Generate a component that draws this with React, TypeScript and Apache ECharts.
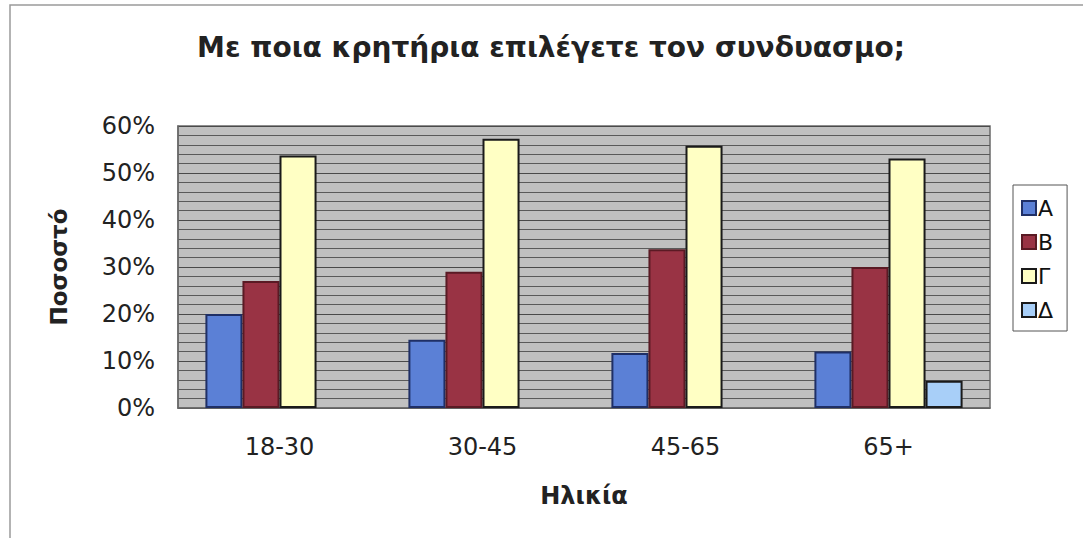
import React, { useEffect, useRef } from "react";
import * as echarts from "echarts";

const categories = ["18-30", "30-45", "45-65", "65+"];
const seriesNames = ["A", "B", "Γ", "Δ"];
const valuesA = [0.2, 0.145, 0.117, 0.12];
const valuesB = [0.27, 0.29, 0.338, 0.3];
const valuesG = [0.537, 0.573, 0.558, 0.531];
const valuesD = [null, null, null, 0.058];
const yTicks = [0, 0.1, 0.2, 0.3, 0.4, 0.5, 0.6];

const fillColors = ["#5b80d6", "#993344", "#ffffc4", "#a8cff8"];
const borderColors = ["#1f2f66", "#5a1a24", "#1a1a1a", "#1a1a1a"];
const FONT = "DejaVu Sans, Verdana, sans-serif";

export default function App() {
  const ref = useRef<HTMLDivElement>(null);
  useEffect(() => {
    if (!ref.current) return;
    const chart = echarts.init(ref.current, null, { renderer: "svg" });
    const data = [valuesA, valuesB, valuesG, valuesD];
    chart.setOption({
      animation: false,
      backgroundColor: "#ffffff",
      textStyle: { fontFamily: FONT, color: "#111" },
      title: {
        text: "Με ποια κρητήρια επιλέγετε τον συνδυασμο;",
        left: 546,
        textAlign: "center",
        top: 28,
        textStyle: { fontSize: 28, fontWeight: "bold", color: "#222", fontFamily: FONT },
      },
      graphic: [
        {
          type: "rect",
          shape: { x: 10, y: 5, width: 1100, height: 600 },
          style: { fill: "none", stroke: "#9a9a9a", lineWidth: 1.5 },
          silent: true,
        },
      ],
      legend: {
        orient: "vertical",
        left: 1013,
        top: 185,
        width: 66,
        padding: [12, 14, 10, 8],
        borderColor: "#555",
        borderWidth: 1,
        itemWidth: 14,
        itemHeight: 14,
        itemGap: 12,
        icon: "rect",
        data: seriesNames,
        textStyle: { fontSize: 22, color: "#111", fontFamily: FONT, padding: [0, 0, 0, -3] },
      },
      grid: {
        left: 178,
        right: 93,
        top: 126,
        bottom: 130,
        show: true,
        backgroundColor: "#c0c0c0",
        borderColor: "#6a6a6a",
        borderWidth: 1.5,
      },
      xAxis: {
        type: "category",
        data: categories,
        name: "Ηλικία",
        nameLocation: "middle",
        nameGap: 76,
        nameTextStyle: { fontSize: 24, fontWeight: "bold", color: "#222", fontFamily: FONT },
        axisLine: { show: true, lineStyle: { color: "#6a6a6a", width: 1.5 } },
        axisTick: { show: false },
        axisLabel: { fontSize: 24, color: "#222", margin: 27, fontFamily: FONT },
      },
      yAxis: {
        type: "value",
        min: yTicks[0],
        max: yTicks[yTicks.length - 1],
        interval: 0.1,
        name: "Ποσοστό",
        nameLocation: "middle",
        nameGap: 108,
        nameTextStyle: { fontSize: 23, fontWeight: "bold", color: "#222", fontFamily: FONT },
        axisLine: { show: true, lineStyle: { color: "#6a6a6a", width: 1.5 } },
        axisTick: { show: false },
        axisLabel: {
          fontSize: 24,
          color: "#222",
          margin: 23,
          fontFamily: FONT,
          formatter: (v: number) => Math.round(v * 100) + "%",
        },
        splitLine: { show: true, lineStyle: { color: "#4a4a4a", width: 1 } },
        minorTick: { show: false, splitNumber: 5 },
        minorSplitLine: { show: true, lineStyle: { color: "#5a5a5a", width: 1 } },
      },
      series: seriesNames.map((name, i) => ({
        name,
        type: "bar",
        data: data[i],
        barGap: "0%",
        barCategoryGap: "27%",
        itemStyle: {
          color: fillColors[i],
          borderColor: borderColors[i],
          borderWidth: 2,
        },
      })),
    });
    return () => chart.dispose();
  }, []);
  return (
    <div
      ref={ref}
      style={{ position: "absolute", left: 0, top: 0, width: 1083, height: 538 }}
    />
  );
}
